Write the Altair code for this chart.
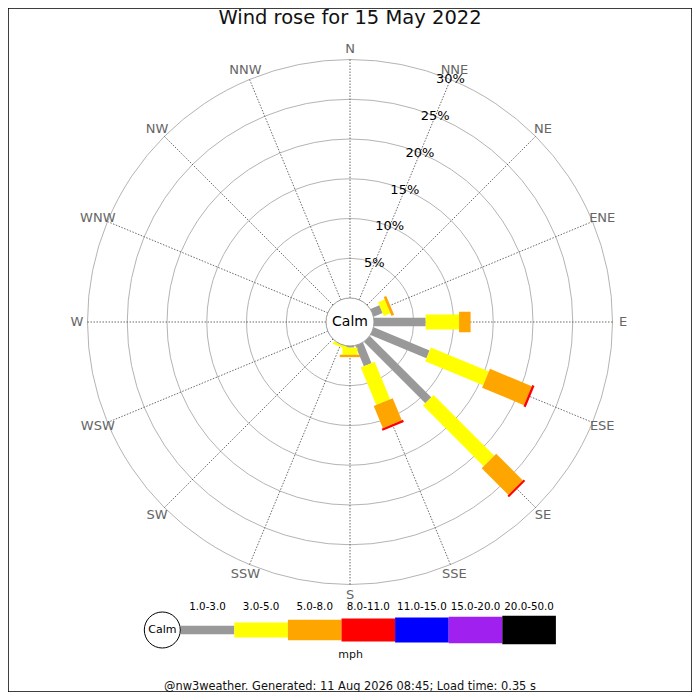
import altair as alt
import pandas as pd

# ---------------- data ----------------
DIRS = ["N", "NNE", "NE", "ENE", "E", "ESE", "SE", "SSE",
        "S", "SSW", "SW", "WSW", "W", "WNW", "NW", "NNW"]
CLASSES = ["1.0-3.0", "3.0-5.0", "5.0-8.0", "8.0-11.0",
           "11.0-15.0", "15.0-20.0", "20.0-50.0"]
COLORS = ["#999999", "#ffff00", "#ffa500", "#ff0000",
          "#0000ff", "#a020f0", "#000000"]
WIDTHS = [8.3, 15, 20.5, 23, 25, 26.7, 28.3]

#            N  NNE NE  ENE   E     ESE  SE    SSE  S    SSW   SW WSW W WNW NW NNW
SPD_1_3   = [0, 0,  0,  1.2,  6.5,  7.6, 10.9, 2.8, 0.2, 0.0,  0, 0, 0, 0, 0, 0]
SPD_3_5   = [0, 0,  0,  0.9,  4.2,  7.9, 10.8, 5.1, 0.9, 0.35, 0, 0, 0, 0, 0, 0]
SPD_5_8   = [0, 0,  0,  0.35, 1.45, 5.7, 4.75, 3.0, 0.3, 0.0,  0, 0, 0, 0, 0, 0]
SPD_8_11  = [0, 0,  0,  0,    0,    0.3, 0.25, 0.3, 0,   0,    0, 0, 0, 0, 0, 0]
SPD_11_15 = [0] * 16
SPD_15_20 = [0] * 16
SPD_20_50 = [0] * 16
SERIES = [SPD_1_3, SPD_3_5, SPD_5_8, SPD_8_11, SPD_11_15, SPD_15_20, SPD_20_50]

RING_PCTS = [5, 10, 15, 20, 25, 30]
RING_LABELS = ["5%", "10%", "15%", "20%", "25%", "30%"]

TITLE = "Wind rose for 15 May 2022"
FOOTER = "@nw3weather. Generated: 11 Aug 2026 08:45; Load time: 0.35 s"
UNIT = "mph"

# ---------------- geometry ----------------
W = H = 684
CX, CY = 342, 314          # centre of rose in chart pixels
K = 7.95                   # pixels per percent
CALM_PX = 24               # calm circle radius (px)
OFF = CALM_PX / K          # radial offset in percent units
FONT = "DejaVu Sans"
WIDTH_EXPR = "[" + ",".join(str(w) for w in WIDTHS) + "][datum.order]"

xs = alt.Scale(domain=[-CX / K, (W - CX) / K], nice=False, zero=False)
ys = alt.Scale(domain=[-(H - CY) / K, CY / K], nice=False, zero=False)


def X(f):
    return alt.X(f, type="quantitative", scale=xs, axis=None)


def Y(f):
    return alt.Y(f, type="quantitative", scale=ys, axis=None)


def PX(f):
    return alt.X(f, type="quantitative", scale=None, axis=None)


def PY(f):
    return alt.Y(f, type="quantitative", scale=None, axis=None)


# rings
rings = pd.DataFrame({"pct": RING_PCTS, "label": RING_LABELS})
ring_layer = alt.Chart(rings).transform_calculate(
    cx="0", cy="0",
    size=f"pow(2*({CALM_PX}+{K}*datum.pct),2)"
).mark_point(shape="circle", filled=False, stroke="#b4b4b4",
             strokeWidth=1, opacity=1).encode(
    x=X("cx"), y=Y("cy"), size=alt.Size("size:Q", scale=None, legend=None)
)

# direction spokes
dirs = pd.DataFrame({"dir": DIRS, "idx": list(range(16))})
spoke_layer = alt.Chart(dirs).transform_calculate(
    ang="datum.idx*22.5*PI/180",
    x0=f"{OFF}*sin(datum.ang)", y0=f"{OFF}*cos(datum.ang)",
    x1=f"({OFF}+30)*sin(datum.ang)", y1=f"({OFF}+30)*cos(datum.ang)"
).mark_rule(color="#444444", strokeWidth=0.8, strokeDash=[1.5, 1.5]).encode(
    x=X("x0"), y=Y("y0"), x2="x1:Q", y2="y1:Q"
)

# direction labels
lab_r = 273 / K
dirlab_layer = alt.Chart(dirs).transform_calculate(
    ang="datum.idx*22.5*PI/180",
    lx=f"{lab_r}*sin(datum.ang)", ly=f"{lab_r}*cos(datum.ang)"
).mark_text(font=FONT, fontSize=13, color="#666666",
            align="center", baseline="middle").encode(
    x=X("lx"), y=Y("ly"), text="dir:N"
)

# bars
rows = []
for i, d in enumerate(DIRS):
    cum = 0.0
    for j, c in enumerate(CLASSES):
        v = SERIES[j][i]
        if v > 0:
            rows.append({"dir": d, "idx": i, "cls": c, "order": j,
                         "r0": OFF + cum, "r1": OFF + cum + v})
            cum += v
bars = pd.DataFrame(rows)
color_scale = alt.Scale(domain=CLASSES, range=COLORS)
bar_layer = alt.Chart(bars).transform_calculate(
    ang="datum.idx*22.5*PI/180",
    x0="datum.r0*sin(datum.ang)", y0="datum.r0*cos(datum.ang)",
    x1="datum.r1*sin(datum.ang)", y1="datum.r1*cos(datum.ang)",
    w=WIDTH_EXPR
).mark_rule(strokeCap="butt", opacity=1).encode(
    x=X("x0"), y=Y("y0"), x2="x1:Q", y2="y1:Q",
    color=alt.Color("cls:N", scale=color_scale, legend=None),
    strokeWidth=alt.StrokeWidth("w:Q", scale=None, legend=None),
    order="order:Q"
)

# calm circle
calm = pd.DataFrame({"t": ["Calm"]})
calm_layer = alt.Chart(calm).transform_calculate(
    cx="0", cy="0", size=f"pow(2*{CALM_PX},2)"
).mark_point(shape="circle", filled=True, fill="white", stroke="#999999",
             strokeWidth=1, opacity=1, fillOpacity=1).encode(
    x=X("cx"), y=Y("cy"), size=alt.Size("size:Q", scale=None, legend=None)
)
calm_text = alt.Chart(calm).transform_calculate(cx="0", cy="0").mark_text(
    font=FONT, fontSize=14, color="black", align="center", baseline="middle"
).encode(x=X("cx"), y=Y("cy"), text="t:N")

# percent labels along NNE
pct_layer = alt.Chart(rings).transform_calculate(
    ang="22.5*PI/180",
    lx=f"({OFF}+datum.pct)*sin(datum.ang)",
    ly=f"({OFF}+datum.pct)*cos(datum.ang)"
).mark_text(font=FONT, fontSize=13, color="black",
            align="center", baseline="middle").encode(
    x=X("lx"), y=Y("ly"), text="label:N"
)

# ---------------- legend (pixel layout) ----------------
LEG_X0, LEG_STEP, LEG_Y = 172.7, 53.6, 622
leg = pd.DataFrame({"cls": CLASSES, "order": list(range(len(CLASSES)))})
leg_bars = alt.Chart(leg).transform_calculate(
    px0=f"{LEG_X0}+datum.order*{LEG_STEP}",
    px1=f"{LEG_X0}+(datum.order+1)*{LEG_STEP}",
    py=f"{LEG_Y}", w=WIDTH_EXPR
).mark_rule(strokeCap="butt", opacity=1).encode(
    x=PX("px0"), x2="px1:Q", y=PY("py"),
    color=alt.Color("cls:N", scale=color_scale, legend=None),
    strokeWidth=alt.StrokeWidth("w:Q", scale=None, legend=None)
)
leg_text = alt.Chart(leg).transform_calculate(
    px=f"{LEG_X0}+(datum.order+0.5)*{LEG_STEP}", py="599"
).mark_text(font=FONT, fontSize=10.3, color="black",
            align="center", baseline="middle").encode(
    x=PX("px"), y=PY("py"), text="cls:N"
)
leg_calm = alt.Chart(calm).transform_calculate(
    px="154.3", py=f"{LEG_Y}", size="pow(36,2)"
).mark_point(shape="circle", filled=True, fill="white", stroke="black",
             strokeWidth=1, opacity=1, fillOpacity=1).encode(
    x=PX("px"), y=PY("py"), size=alt.Size("size:Q", scale=None, legend=None)
)
leg_calm_text = alt.Chart(calm).transform_calculate(
    px="154.3", py=f"{LEG_Y}"
).mark_text(font=FONT, fontSize=11, color="black",
            align="center", baseline="middle").encode(
    x=PX("px"), y=PY("py"), text="t:N"
)

texts = pd.DataFrame({
    "t": [TITLE, UNIT, FOOTER],
    "px": [342, 342.7, 342],
    "py": [16, 649.5, 682],
    "fs": [19.5, 11, 11.4],
})
misc_text = alt.Chart(texts).mark_text(
    font=FONT, color="#111111", align="center", baseline="alphabetic"
).encode(
    x=PX("px"), y=PY("py"), text="t:N",
    size=alt.Size("fs:Q", scale=None, legend=None)
)

chart = alt.layer(
    ring_layer, spoke_layer, dirlab_layer, bar_layer, calm_layer, calm_text,
    pct_layer, leg_bars, leg_text, leg_calm, leg_calm_text, misc_text
).resolve_scale(
    x="independent", y="independent", size="independent"
).properties(
    width=W, height=H, padding=0, autosize=alt.AutoSizeParams(type="none"),
    background="white"
).configure_view(stroke="black", strokeWidth=1.5)

chart.save("out.html", embed_options={"renderer": "svg", "actions": False})
